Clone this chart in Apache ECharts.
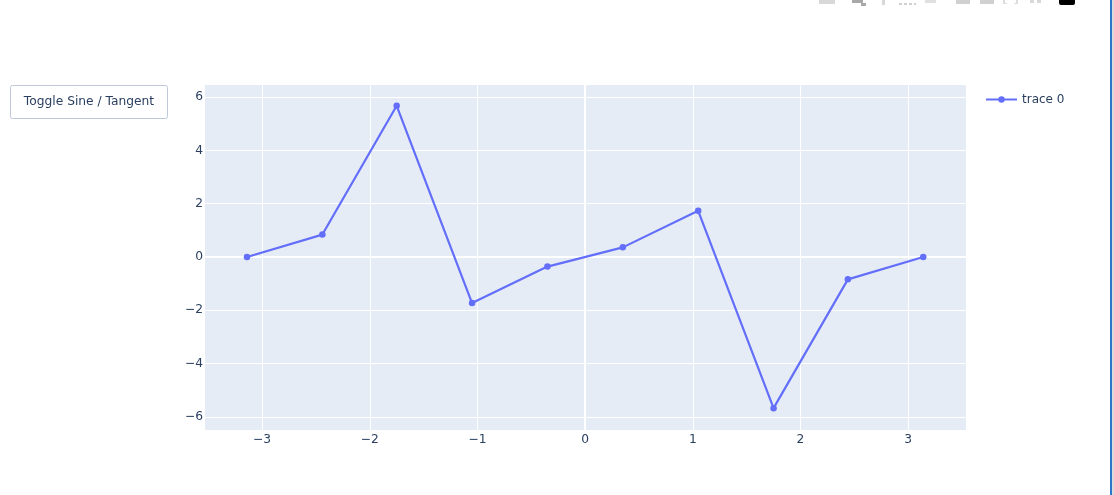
<!DOCTYPE html>
<html>
<head>
<meta charset="utf-8">
<style>html,body{margin:0;padding:0;background:#fff;overflow:hidden}#c{width:1114px;height:495px}</style>
<script src="https://cdn.jsdelivr.net/npm/echarts@6/dist/echarts.min.js"></script>
</head>
<body>
<div id="c"></div>
<script>
const xValues = [-3.14, -2.44, -1.75, -1.05, -0.35, 0.35, 1.05, 1.75, 2.44, 3.14];
const yValues = [0, 0.84, 5.67, -1.73, -0.36, 0.36, 1.73, -5.67, -0.84, 0];
const xTicks = [-3, -2, -1, 0, 1, 2, 3];
const yTicks = [-6, -4, -2, 0, 2, 4, 6];
const seriesName = 'trace 0';
const buttonText = 'Toggle Sine / Tangent';
const FONT = '"DejaVu Sans", Verdana, sans-serif';
const FS = 12.25;
const INK = '#2a3f5f';
const BLUE = '#636efa';
const fmt = v => String(v).replace('-', '\u2212');

// Faint, clipped toolbar glyphs along the top edge of the page
const toolbarBits = [
  [819, 0, 16, 4, '#d8d8d8'], [852, 0, 11, 3, '#a8a8a8'], [861, 3, 5, 3, '#a8a8a8'], [882, 0, 3, 5, '#d8d8d8'],
  [899, 3, 3, 2, '#d0d0d0'], [904, 3, 3, 2, '#d0d0d0'], [909, 3, 3, 2, '#d0d0d0'], [914, 3, 2, 2, '#d0d0d0'],
  [925, 0, 11, 3, '#e0e0e0'], [956, 0, 14, 4, '#d0d0d0'], [980, 0, 14, 4, '#d0d0d0'],
  [1003, 0, 2, 4, '#dcdcdc'], [1016, 0, 2, 4, '#dcdcdc'], [1003, 3, 4, 1, '#dcdcdc'], [1014, 3, 4, 1, '#dcdcdc'],
  [1030, 0, 4, 3, '#d8d8d8'], [1037, 0, 4, 3, '#d8d8d8']
];
const graphics = toolbarBits.map(b => ({
  type: 'rect', silent: true,
  shape: { x: b[0], y: b[1], width: b[2], height: b[3] },
  style: { fill: b[4] }
}));
graphics.push(
  { type: 'rect', silent: true, shape: { x: 1059, y: 0, width: 16, height: 5, r: [0, 0, 2, 2] }, style: { fill: '#000' } },
  { type: 'rect', silent: true, shape: { x: 10.5, y: 85.5, width: 157, height: 33, r: 2 },
    style: { fill: '#fff', stroke: '#bec8d9', lineWidth: 1 } },
  { type: 'text', silent: true, x: 89, y: 101.5,
    style: { text: buttonText, fill: INK, font: FS + 'px ' + FONT, align: 'center', verticalAlign: 'middle' } },
  { type: 'rect', silent: true, shape: { x: 1110, y: 0, width: 2, height: 495 }, style: { fill: '#2f76c9' } },
  { type: 'rect', silent: true, shape: { x: 1112, y: 0, width: 2, height: 495 }, style: { fill: '#dcdcdc' } }
);

const chart = echarts.init(document.getElementById('c'), null, { renderer: 'canvas' });
chart.setOption({
  animation: false,
  backgroundColor: '#fff',
  textStyle: { fontFamily: FONT },
  graphic: graphics,
  grid: { left: 205, top: 85, width: 761, height: 345, backgroundColor: '#e5ecf6', show: true, borderWidth: 0 },
  legend: {
    left: 985, top: 93.5, padding: 0, itemWidth: 31, itemHeight: 8, itemGap: 5,
    textStyle: { color: INK, fontSize: 12, fontFamily: FONT, padding: [0, 0, 0, 0] },
    data: [seriesName]
  },
  xAxis: {
    type: 'value', min: -3.53, max: 3.537,
    axisLine: { show: false },
    axisTick: { show: false, customValues: xTicks },
    axisLabel: { customValues: xTicks, color: INK, fontSize: FS, margin: 4, fontFamily: FONT, formatter: fmt, hideOverlap: false },
    splitLine: { show: true, lineStyle: { color: '#fff', width: 1 } }
  },
  yAxis: {
    type: 'value', min: -6.49, max: 6.45,
    axisLine: { show: false },
    axisTick: { show: false, customValues: yTicks },
    axisLabel: { customValues: yTicks, color: INK, fontSize: FS, margin: 2, padding: [8, 0, 0, 0], fontFamily: FONT, formatter: fmt, hideOverlap: false },
    splitLine: { show: true, lineStyle: { color: '#fff', width: 1 } }
  },
  series: [{
    name: seriesName,
    type: 'line',
    z: 3,
    data: xValues.map((x, i) => [x, yValues[i]]),
    symbol: 'circle',
    symbolSize: 6.5,
    showSymbol: true,
    lineStyle: { color: BLUE, width: 2.2 },
    itemStyle: { color: BLUE },
    markLine: {
      silent: true, symbol: 'none', z: 1, animation: false,
      label: { show: false },
      lineStyle: { color: '#fff', width: 2, type: 'solid' },
      data: [{ xAxis: 0 }, { yAxis: 0 }]
    }
  }]
});
</script>
</body>
</html>
